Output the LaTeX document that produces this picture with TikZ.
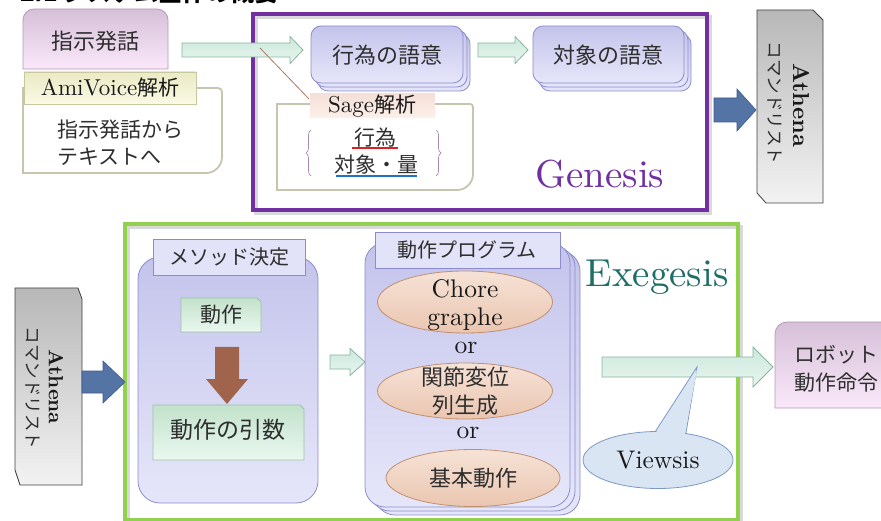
\documentclass[tikz,border=0pt]{standalone}
\usepackage{fontspec}
\setmainfont{lmroman10-regular}[Extension=.otf, BoldFont=lmroman10-bold]
\newfontfamily\jp{Noto Sans CJK JP}
\usetikzlibrary{shapes.geometric,decorations.pathreplacing}
\definecolor{ptop}{HTML}{D6C0D8}
\definecolor{pbot}{HTML}{FAE8FA}
\definecolor{pbord}{HTML}{B898B8}
\definecolor{ltop}{HTML}{C4C4EC}
\definecolor{lbot}{HTML}{E6E6FA}
\definecolor{lbord}{HTML}{8C8CCC}
\definecolor{ltab}{HTML}{E2E2F8}
\definecolor{gtop}{HTML}{C2E2CA}
\definecolor{gbot}{HTML}{EAF8F0}
\definecolor{gbord}{HTML}{98C4A4}
\definecolor{atop}{HTML}{CCE8DC}
\definecolor{abot}{HTML}{E8F6EF}
\definecolor{abord}{HTML}{88B4A0}
\definecolor{bfill}{HTML}{5574A6}
\definecolor{bbord}{HTML}{3E5B8C}
\definecolor{brn}{HTML}{A0634C}
\definecolor{cbord}{HTML}{C6C6AE}
\definecolor{ytop}{HTML}{EAEAC4}
\definecolor{ybot}{HTML}{FAFAE6}
\definecolor{ybord}{HTML}{C8C8A0}
\definecolor{stop}{HTML}{F4E0D8}
\definecolor{sbot}{HTML}{FCF0EA}
\definecolor{genc}{HTML}{7030A0}
\definecolor{exc}{HTML}{92D050}
\definecolor{exts}{HTML}{1E6E68}
\definecolor{otop}{HTML}{F6E2D6}
\definecolor{obot}{HTML}{EAC6B0}
\definecolor{obord}{HTML}{C09070}
\definecolor{vfill}{HTML}{DAE5F4}
\definecolor{vbord}{HTML}{7C98C4}
\definecolor{bracec}{HTML}{A888B0}
\definecolor{ulinec}{HTML}{B07860}
\definecolor{redl}{HTML}{E02020}
\definecolor{bluel}{HTML}{1C74C4}
\newcommand\fsz[2]{\fontsize{#1}{#2}\selectfont}
% x1,y1,x2,y2,rTL,rTR,rBR,rBL
\newcommand\rcbox[8]{(#1,#2+#5) .. controls (#1,#2+0.45*#5) and (#1+0.45*#5,#2) .. (#1+#5,#2)
 -- (#3-#6,#2) .. controls (#3-0.45*#6,#2) and (#3,#2+0.45*#6) .. (#3,#2+#6)
 -- (#3,#4-#7) .. controls (#3,#4-0.45*#7) and (#3-0.45*#7,#4) .. (#3-#7,#4)
 -- (#1+#8,#4) .. controls (#1+0.45*#8,#4) and (#1,#4-0.45*#8) .. (#1,#4-#8) -- cycle}
% x1, xtip, xhead, y, shaft half, head half
\newcommand\harrow[6]{(#1,#4-#5) -- (#3,#4-#5) -- (#3,#4-#6) -- (#2,#4) -- (#3,#4+#6) -- (#3,#4+#5) -- (#1,#4+#5) -- cycle}
\begin{document}
\begin{tikzpicture}[x=1pt,y=-1pt,
  every node/.style={inner sep=0, align=center, text=black!82},
  purplebox/.style={draw=pbord, line width=0.8, top color=ptop, bottom color=pbot},
  lavbox/.style={draw=lbord, line width=0.8, top color=ltop, bottom color=lbot},
  lavtab/.style={draw=lbord, line width=0.8, fill=ltab},
  greenbox/.style={draw=gbord, line width=0.8, top color=gtop, bottom color=gbot},
  garrow/.style={draw=abord, line width=0.8, top color=atop, bottom color=abot},
  barrow/.style={draw=bbord, fill=bfill, line width=0.6},
  callout/.style={draw=cbord, line width=1.8},
  athena/.style={draw=black!75, line width=0.8, top color=black!28, bottom color=black!5},
  oval/.style={ellipse, draw=obord, line width=0.8, top color=otop, bottom color=obot},
  latin/.style={text=black!90},
  bracestyle/.style={draw=bracec, line width=0.7, decorate, decoration={brace, amplitude=5pt}}]
\useasboundingbox (0,0) rectangle (881,521);
% title (cut off at top, as in the reference)
\node[anchor=base west, font=\jp\bfseries\fsz{24}{26}, text=black] (title) at (20,2) {2.1 システム全体の概要};

% ---------- Genesis frame ----------
\draw[black!15, line width=3.5] (256,17) rectangle (710,213);
\draw[genc, line width=3.5] (253,14) rectangle (707,210);

% 指示発話
\path[purplebox] \rcbox{23}{9}{168}{69}{11}{11}{0}{0};
\node[font=\jp\fsz{22}{26}] (shiji) at (95.5,41) {指示発話};

% AmiVoice callout
\path[callout] \rcbox{23}{88}{222}{173}{0}{4}{16}{0};
\path[draw=ybord, line width=0.8, top color=ytop, bottom color=ybot] (24,72) rectangle (196,104);
\node[latin, font=\fsz{23}{26}] (ami) at (110,88) {AmiVoice{\jp\fsz{21}{24}解析}};
\node[font=\jp\fsz{21}{27}, anchor=west, align=left] (amitext) at (57,143) {指示発話から\\テキストへ};

% arrow 1
\path[garrow] \harrow{182}{303}{290}{50}{7}{13.5};
\coordinate (lineA) at (260,48);

% 行為の語意
\foreach \d/\e in {7/8, 4/4, 0/0}
  \path[lavbox] \rcbox{311+\d}{26+\e}{463+\d}{83+\e}{10}{10}{10}{10};
\node[font=\jp\fsz{22}{26}] (koui) at (387,55) {行為の語意};

% arrow 2
\path[garrow] \harrow{478}{528}{515}{50}{7}{13.5};

% 対象の語意
\foreach \d/\e in {7/8, 4/4, 0/0}
  \path[lavbox] \rcbox{533+\d}{26+\e}{684+\d}{83+\e}{10}{10}{10}{10};
\node[font=\jp\fsz{22}{26}] (taisho) at (608,55) {対象の語意};

% Sage callout
\path[callout] \rcbox{277}{104}{473}{190}{0}{3}{16}{0};
\path[top color=stop, bottom color=sbot] (310,94) rectangle (435,118);
\node[latin, font=\fsz{23}{26}] (sage) at (372,106) {Sage{\jp\fsz{21}{24}解析}};
\draw[ulinec, line width=0.8] (lineA) -- (309,99);
\draw[bracestyle] (311,176) -- (311,130);
\draw[bracestyle] (436,130) -- (436,176);
\node[font=\jp\fsz{21}{24}] (koui2) at (375,138) {行為};
\draw[redl, line width=1.4] (352,148) -- (398,148);
\node[font=\jp\fsz{21}{24}] (taisho2) at (376,165) {対象・量};
\draw[bluel, line width=1.4] (336,176) -- (417,176);

\node[font=\fsz{39}{42}, text=genc, anchor=base] (genesis) at (600,188) {Genesis};

% blue arrow top
\path[barrow] \harrow{714}{756}{737}{110}{12}{21};

% Athena top
\path[athena] (757,10) -- (813,10) -- (823,20) -- (823,203) -- (766,203) -- (757,193) -- cycle;
\node[latin, rotate=-90, font=\bfseries\fsz{23}{24}] (ath1) at (801,105) {Athena};
\node[rotate=-90, font=\jp\fsz{17.5}{20}] (cmd1) at (775,103) {コマンドリスト};

% ---------- Exegesis frame ----------
\draw[black!15, line width=3.5] (128,227) rectangle (741,523);
\draw[exc, line width=3.5] (125,224) rectangle (738,520);

% Athena bottom
\path[athena] (15,288) -- (78,288) -- (82,299) -- (82,485) -- (20,485) -- (15,470) -- cycle;
\node[latin, rotate=-90, font=\bfseries\fsz{20.5}{22}] (ath2) at (56,387) {Athena};
\node[rotate=-90, font=\jp\fsz{17.5}{20}] (cmd2) at (33,388) {コマンドリスト};

% blue arrow bottom
\path[barrow] \harrow{82}{125}{103}{382}{11}{21};

% メソッド決定
\path[lavbox] \rcbox{138}{257}{318}{503}{22}{22}{22}{22};
\path[lavtab] (153,239) rectangle (305,275);
\node[font=\jp\fsz{20}{24}] (method) at (229,257) {メソッド決定};

% 動作
\path[greenbox] (181,298) -- (257,298) -- (261,302) -- (261,332) -- (181,332) -- cycle;
\node[font=\jp\fsz{21}{24}] (dosa) at (221,315) {動作};
% brown arrow
\path[fill=brn] (215,347) -- (239,347) -- (239,379) -- (248,379) -- (227,404) -- (206,379) -- (215,379) -- cycle;
% 動作の引数
\path[greenbox] (153,405) -- (300,405) -- (304,409) -- (304,460) -- (153,460) -- cycle;
\node[font=\jp\fsz{23}{26}] (hikisu) at (228,430) {動作の引数};

% small arrow
\path[garrow] \harrow{330}{365}{350}{362}{7}{13.5};

% 動作プログラム
\foreach \d/\e in {10/8, 5/4, 0/0}
  \path[lavbox] \rcbox{365+\d}{243+\e}{570+\d}{507+\e}{20}{20}{20}{20};
\path[lavtab] (375,232) rectangle (560,268);
\node[font=\jp\fsz{20}{24}] (prog) at (467,250) {動作プログラム};

\node[oval, minimum width=175pt, minimum height=62pt] (chore) at (465,302) {};
\node[latin, font=\fsz{25.5}{28}] (choret) at (465,305) {Chore\\graphe};
\node[latin, font=\fsz{25.5}{28}] (or1) at (466,348) {or};
\node[oval, minimum width=175pt, minimum height=56pt] (kansetsu) at (465,391) {};
\node[font=\jp\fsz{22}{28}] (kansetsut) at (kansetsu) {関節変位\\列生成};
\node[latin, font=\fsz{25.5}{28}] (or2) at (468,433) {or};
\node[oval, minimum width=174pt, minimum height=57pt] (kihon) at (473,478) {};
\node[font=\jp\fsz{22}{26}] (kihont) at (kihon) {基本動作};

\node[font=\fsz{39}{42}, text=exts, anchor=base] (exeg) at (657,287) {Exegesis};

% big arrow
\path[garrow] \harrow{602}{773}{753}{367}{10}{20};

% Viewsis callout
\coordinate (vtip) at (697,367);
\path[draw=vbord, fill=vfill, line width=0.8] (646.6,445) -- (vtip) -- (684,445) -- cycle;
\node[ellipse, draw=vbord, fill=vfill, line width=0.8, minimum width=150pt, minimum height=57pt] (viewsis) at (658,460) {};
\path[fill=vfill] (651,440) -- (697,370) -- (683.6,440) -- cycle;
\node[latin, font=\fsz{25.5}{28}] (viewsist) at (viewsis) {Viewsis};

% ロボット動作命令
\path[purplebox] \rcbox{775}{322}{900}{408}{12}{12}{0}{0};
\node[font=\jp\fsz{21}{28}] (robot) at (836,369) {ロボット\\動作命令};
\end{tikzpicture}
\end{document}
